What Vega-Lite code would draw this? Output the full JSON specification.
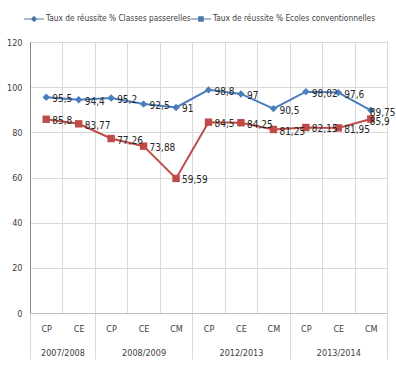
{
  "$schema": "https://vega.github.io/schema/vega-lite/v6.json",
  "width": 357,
  "height": 271,
  "autosize": {"type": "none"},
  "padding": {"left": 30, "top": 42, "right": 9, "bottom": 52},
  "background": "white",
  "config": {
    "font": "DejaVu Sans Condensed",
    "view": {"stroke": "#595959", "strokeWidth": 1}
  },
  "data": {
    "values": [
      {"i": 0, "cat": "CP", "year": "2007/2008", "series": "Taux de réussite % Classes passerelles", "value": 95.5, "label": "95,5"},
      {"i": 1, "cat": "CE", "year": "2007/2008", "series": "Taux de réussite % Classes passerelles", "value": 94.4, "label": "94,4"},
      {"i": 2, "cat": "CP", "year": "2008/2009", "series": "Taux de réussite % Classes passerelles", "value": 95.2, "label": "95,2"},
      {"i": 3, "cat": "CE", "year": "2008/2009", "series": "Taux de réussite % Classes passerelles", "value": 92.5, "label": "92,5"},
      {"i": 4, "cat": "CM", "year": "2008/2009", "series": "Taux de réussite % Classes passerelles", "value": 91, "label": "91"},
      {"i": 5, "cat": "CP", "year": "2012/2013", "series": "Taux de réussite % Classes passerelles", "value": 98.8, "label": "98,8"},
      {"i": 6, "cat": "CE", "year": "2012/2013", "series": "Taux de réussite % Classes passerelles", "value": 97, "label": "97"},
      {"i": 7, "cat": "CM", "year": "2012/2013", "series": "Taux de réussite % Classes passerelles", "value": 90.5, "label": "90,5"},
      {"i": 8, "cat": "CP", "year": "2013/2014", "series": "Taux de réussite % Classes passerelles", "value": 98.02, "label": "98,02"},
      {"i": 9, "cat": "CE", "year": "2013/2014", "series": "Taux de réussite % Classes passerelles", "value": 97.6, "label": "97,6"},
      {"i": 10, "cat": "CM", "year": "2013/2014", "series": "Taux de réussite % Classes passerelles", "value": 89.75, "label": "89,75"},
      {"i": 0, "cat": "CP", "year": "2007/2008", "series": "Taux de réussite % Ecoles conventionnelles", "value": 85.8, "label": "85,8"},
      {"i": 1, "cat": "CE", "year": "2007/2008", "series": "Taux de réussite % Ecoles conventionnelles", "value": 83.77, "label": "83,77"},
      {"i": 2, "cat": "CP", "year": "2008/2009", "series": "Taux de réussite % Ecoles conventionnelles", "value": 77.26, "label": "77,26"},
      {"i": 3, "cat": "CE", "year": "2008/2009", "series": "Taux de réussite % Ecoles conventionnelles", "value": 73.88, "label": "73,88"},
      {"i": 4, "cat": "CM", "year": "2008/2009", "series": "Taux de réussite % Ecoles conventionnelles", "value": 59.59, "label": "59,59"},
      {"i": 5, "cat": "CP", "year": "2012/2013", "series": "Taux de réussite % Ecoles conventionnelles", "value": 84.5, "label": "84,5"},
      {"i": 6, "cat": "CE", "year": "2012/2013", "series": "Taux de réussite % Ecoles conventionnelles", "value": 84.25, "label": "84,25"},
      {"i": 7, "cat": "CM", "year": "2012/2013", "series": "Taux de réussite % Ecoles conventionnelles", "value": 81.25, "label": "81,25"},
      {"i": 8, "cat": "CP", "year": "2013/2014", "series": "Taux de réussite % Ecoles conventionnelles", "value": 82.15, "label": "82,15"},
      {"i": 9, "cat": "CE", "year": "2013/2014", "series": "Taux de réussite % Ecoles conventionnelles", "value": 81.95, "label": "81,95"},
      {"i": 10, "cat": "CM", "year": "2013/2014", "series": "Taux de réussite % Ecoles conventionnelles", "value": 85.9, "label": "85,9"}
    ]
  },
  "transform": [{"calculate": "datum.i + 0.5", "as": "xc"}],
  "resolve": {"axis": {"x": "independent"}, "scale": {"shape": "independent"}},
  "encoding": {
    "y": {
      "field": "value", "type": "quantitative",
      "scale": {"domain": [0, 120], "nice": false},
      "axis": {
        "title": null, "values": [0, 20, 40, 60, 80, 100, 120],
        "ticks": false, "domainColor": "#868686", "gridColor": "#D9D9D9",
        "labelFontSize": 9, "labelColor": "#404040", "labelPadding": 8
      }
    }
  },
  "layer": [
    {
      "mark": {"type": "line", "strokeWidth": 2},
      "encoding": {
        "x": {
          "field": "xc", "type": "quantitative",
          "scale": {"domain": [0, 11], "nice": false, "zero": false},
          "axis": {
            "orient": "bottom", "title": null, "values": [0,1,2,3,4,5,6,7,8,9,10,11],
            "labels": false, "ticks": false, "grid": true, "gridColor": "#D9D9D9",
            "domainColor": "#BFBFBF"
          }
        },
        "color": {
          "field": "series", "type": "nominal",
          "scale": {"range": ["#4A7EBB", "#BE4B48"]},
          "legend": null
        },
        "detail": {"field": "series"}
      }
    },
    {
      "transform": [{"filter": "datum.series == 'Taux de réussite % Classes passerelles'"}],
      "mark": {"type": "point", "filled": true, "opacity": 1, "size": 55, "shape": "diamond"},
      "encoding": {
        "x": {
          "field": "xc", "type": "quantitative",
          "axis": {
            "orient": "bottom", "title": null, "values": [0.5,1.5,2.5,3.5,4.5,5.5,6.5,7.5,8.5,9.5,10.5],
            "labelExpr": "['CP','CE','CP','CE','CM','CP','CE','CM','CP','CE','CM'][round(datum.value - 0.5)]",
            "ticks": false, "tickSize": 0, "grid": false, "domain": false,
            "labelFontSize": 9, "labelColor": "#404040", "labelPadding": 15, "labelBaseline": "middle"
          }
        },
        "color": {"field": "series", "type": "nominal", "legend": null}
      }
    },
    {
      "transform": [{"filter": "datum.series == 'Taux de réussite % Ecoles conventionnelles'"}],
      "mark": {"type": "point", "filled": true, "opacity": 1, "size": 55, "shape": "square"},
      "encoding": {
        "x": {"field": "xc", "type": "quantitative", "axis": null},
        "color": {"field": "series", "type": "nominal", "legend": null}
      }
    },
    {
      "transform": [{"filter": "datum.i < 10"}],
      "mark": {"type": "text", "align": "left", "baseline": "middle", "dx": 6, "dy": 2, "fontSize": 10, "color": "#262626"},
      "encoding": {
        "x": {
          "field": "xc", "type": "quantitative",
          "axis": {
            "orient": "bottom", "title": null, "values": [0, 2, 5, 8, 11],
            "labels": false, "ticks": true, "tickSize": 46, "tickColor": "#D9D9D9",
            "grid": false, "domain": false
          }
        },
        "text": {"field": "label"}
      }
    },
    {
      "transform": [{"filter": "datum.i == 10"}],
      "mark": {"type": "text", "align": "left", "baseline": "middle", "dx": -1, "dy": 3, "fontSize": 10, "color": "#262626"},
      "encoding": {
        "x": {"field": "xc", "type": "quantitative", "axis": null},
        "text": {"field": "label"}
      }
    },
    {
      "transform": [{"filter": "datum.series == 'Taux de réussite % Classes passerelles'"}],
      "mark": {"type": "point", "filled": true, "opacity": 0},
      "encoding": {
        "x": {
          "field": "xc", "type": "quantitative",
          "axis": {
            "orient": "bottom", "title": null, "values": [1, 3.5, 6.5, 9.5],
            "labelExpr": "datum.value == 1 ? '2007/2008' : datum.value == 3.5 ? '2008/2009' : datum.value == 6.5 ? '2012/2013' : '2013/2014'",
            "ticks": false, "tickSize": 0, "grid": false, "domain": false,
            "labelFontSize": 9, "labelColor": "#404040", "labelPadding": 39, "labelBaseline": "middle"
          }
        },
        "shape": {
          "field": "series", "type": "nominal",
          "scale": {"range": ["M-1,-0.05H1V0.05H-1Z M0,-0.32L0.32,0L0,0.32L-0.32,0Z"]},
          "legend": {
            "title": null, "orient": "none", "direction": "horizontal",
            "legendX": -6, "legendY": -33, "symbolSize": 400, "symbolOpacity": 1,
            "symbolStrokeWidth": 0, "labelFontSize": 8.3, "labelColor": "#404040",
            "labelLimit": 400, "labelOffset": 2,
            "encode": {"symbols": {"fill": {"value": "#4A7EBB"}, "stroke": {"value": "#4A7EBB"}}}
          }
        }
      }
    },
    {
      "transform": [{"filter": "datum.series == 'Taux de réussite % Ecoles conventionnelles'"}],
      "mark": {"type": "point", "filled": true, "opacity": 0},
      "encoding": {
        "x": {"field": "xc", "type": "quantitative", "axis": null},
        "shape": {
          "field": "series", "type": "nominal",
          "scale": {"range": ["M-1,-0.05H1V0.05H-1Z M-0.28,-0.28H0.28V0.28H-0.28Z"]},
          "legend": {
            "title": null, "orient": "none", "direction": "horizontal",
            "legendX": 161, "legendY": -33, "symbolSize": 400, "symbolOpacity": 1,
            "symbolStrokeWidth": 0, "labelFontSize": 8.3, "labelColor": "#404040",
            "labelLimit": 400, "labelOffset": 2,
            "encode": {"symbols": {"fill": {"value": "#BE4B48"}, "stroke": {"value": "#BE4B48"}}}
          }
        }
      }
    }
  ]
}
